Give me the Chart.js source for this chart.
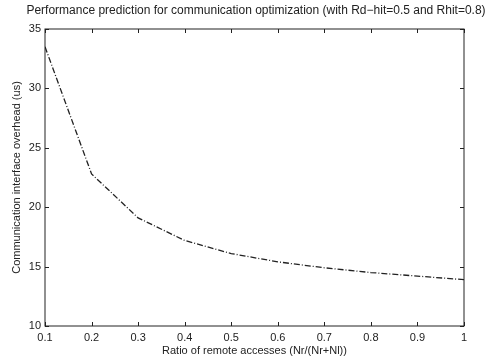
<!DOCTYPE html>
<html>
<head>
<meta charset="utf-8">
<script src="https://cdn.jsdelivr.net/npm/chart.js@4/dist/chart.umd.min.js"></script>
<style>
  html, body { margin: 0; padding: 0; background: #fff; }
  #wrap { width: 491px; height: 363px; }
</style>
</head>
<body>
<div id="wrap"><canvas id="chart" width="491" height="363"></canvas></div>
<script>
// ratio of remote accesses
const ratios = [0.1, 0.2, 0.3, 0.4, 0.5, 0.6, 0.7, 0.8, 0.9, 1.0];
// overhead (us)
const overhead = [33.5, 22.8, 19.1, 17.2, 16.1, 15.4, 14.9, 14.5, 14.2, 13.9];
const xTicks = [0.1, 0.2, 0.3, 0.4, 0.5, 0.6, 0.7, 0.8, 0.9, 1];
const yTicks = [10, 15, 20, 25, 30, 35];
const titleText = 'Performance prediction for communication optimization (with Rd\u2212hit=0.5 and Rhit=0.8)';

const ink = '#222';
const font = { family: 'Liberation Sans, Arial, sans-serif', size: 11, weight: 'normal' };

// MATLAB style: box round the axes and ticks pointing inward on all sides
const boxTicks = {
  id: 'boxTicks',
  afterDraw(chart) {
    const { ctx, chartArea: a, scales: { x, y } } = chart;
    ctx.save();
    ctx.strokeStyle = ink;
    ctx.lineWidth = 1;
    ctx.strokeRect(a.left, a.top, a.right - a.left, a.bottom - a.top);
    ctx.beginPath();
    xTicks.forEach(v => {
      const px = Math.round(x.getPixelForValue(v)) + 0.5;
      ctx.moveTo(px, a.bottom); ctx.lineTo(px, a.bottom - 4);
      ctx.moveTo(px, a.top); ctx.lineTo(px, a.top + 4);
    });
    yTicks.forEach(v => {
      const py = Math.round(y.getPixelForValue(v)) + 0.5;
      ctx.moveTo(a.left, py); ctx.lineTo(a.left + 4, py);
      ctx.moveTo(a.right, py); ctx.lineTo(a.right - 4, py);
    });
    ctx.stroke();
    // title, centred a bit right of the plot like the original figure
    ctx.fillStyle = ink;
    ctx.font = '12px ' + font.family;
    ctx.textAlign = 'center';
    ctx.textBaseline = 'middle';
    ctx.fillText(titleText, 256, 11);
    ctx.restore();
  }
};

const bgWhite = {
  id: 'bgWhite',
  beforeDraw(chart) {
    const c = chart.ctx;
    c.save();
    c.fillStyle = '#fff';
    c.fillRect(0, 0, chart.width, chart.height);
    c.restore();
  }
};

new Chart(document.getElementById('chart'), {
  type: 'line',
  data: {
    datasets: [{
      data: ratios.map((r, i) => ({ x: r, y: overhead[i] })),
      borderColor: ink,
      borderWidth: 1.3,
      borderDash: [6, 2, 1, 2],
      pointRadius: 0,
      tension: 0,
      fill: false
    }]
  },
  options: {
    responsive: false,
    animation: false,
    layout: { padding: { left: 0, right: 27, top: 29, bottom: 0 } },
    plugins: {
      legend: { display: false },
      tooltip: { enabled: false },
      title: { display: false }
    },
    scales: {
      x: {
        type: 'linear',
        min: 0.1,
        max: 1,
        afterBuildTicks: s => { s.ticks = xTicks.map(v => ({ value: v })); },
        afterFit: s => { s.height = 37; },
        grid: { display: false, drawTicks: false },
        border: { display: false },
        ticks: {
          color: ink, font: font, padding: 5, maxRotation: 0,
          callback: v => String(Math.round(v * 10) / 10)
        },
        title: {
          display: true,
          text: 'Ratio of remote accesses (Nr/(Nr+Nl))',
          color: ink, font: font, padding: { top: 0, bottom: 5 }
        }
      },
      y: {
        type: 'linear',
        min: 10,
        max: 35,
        afterBuildTicks: s => { s.ticks = yTicks.map(v => ({ value: v })); },
        afterFit: s => { s.width = 45; },
        grid: { display: false, drawTicks: false },
        border: { display: false },
        ticks: { color: ink, font: font, padding: 4 },
        title: {
          display: true,
          text: 'Communication interface overhead (us)',
          color: ink, font: font, padding: { top: 10, bottom: 0 }
        }
      }
    }
  },
  plugins: [bgWhite, boxTicks]
});
</script>
</body>
</html>
